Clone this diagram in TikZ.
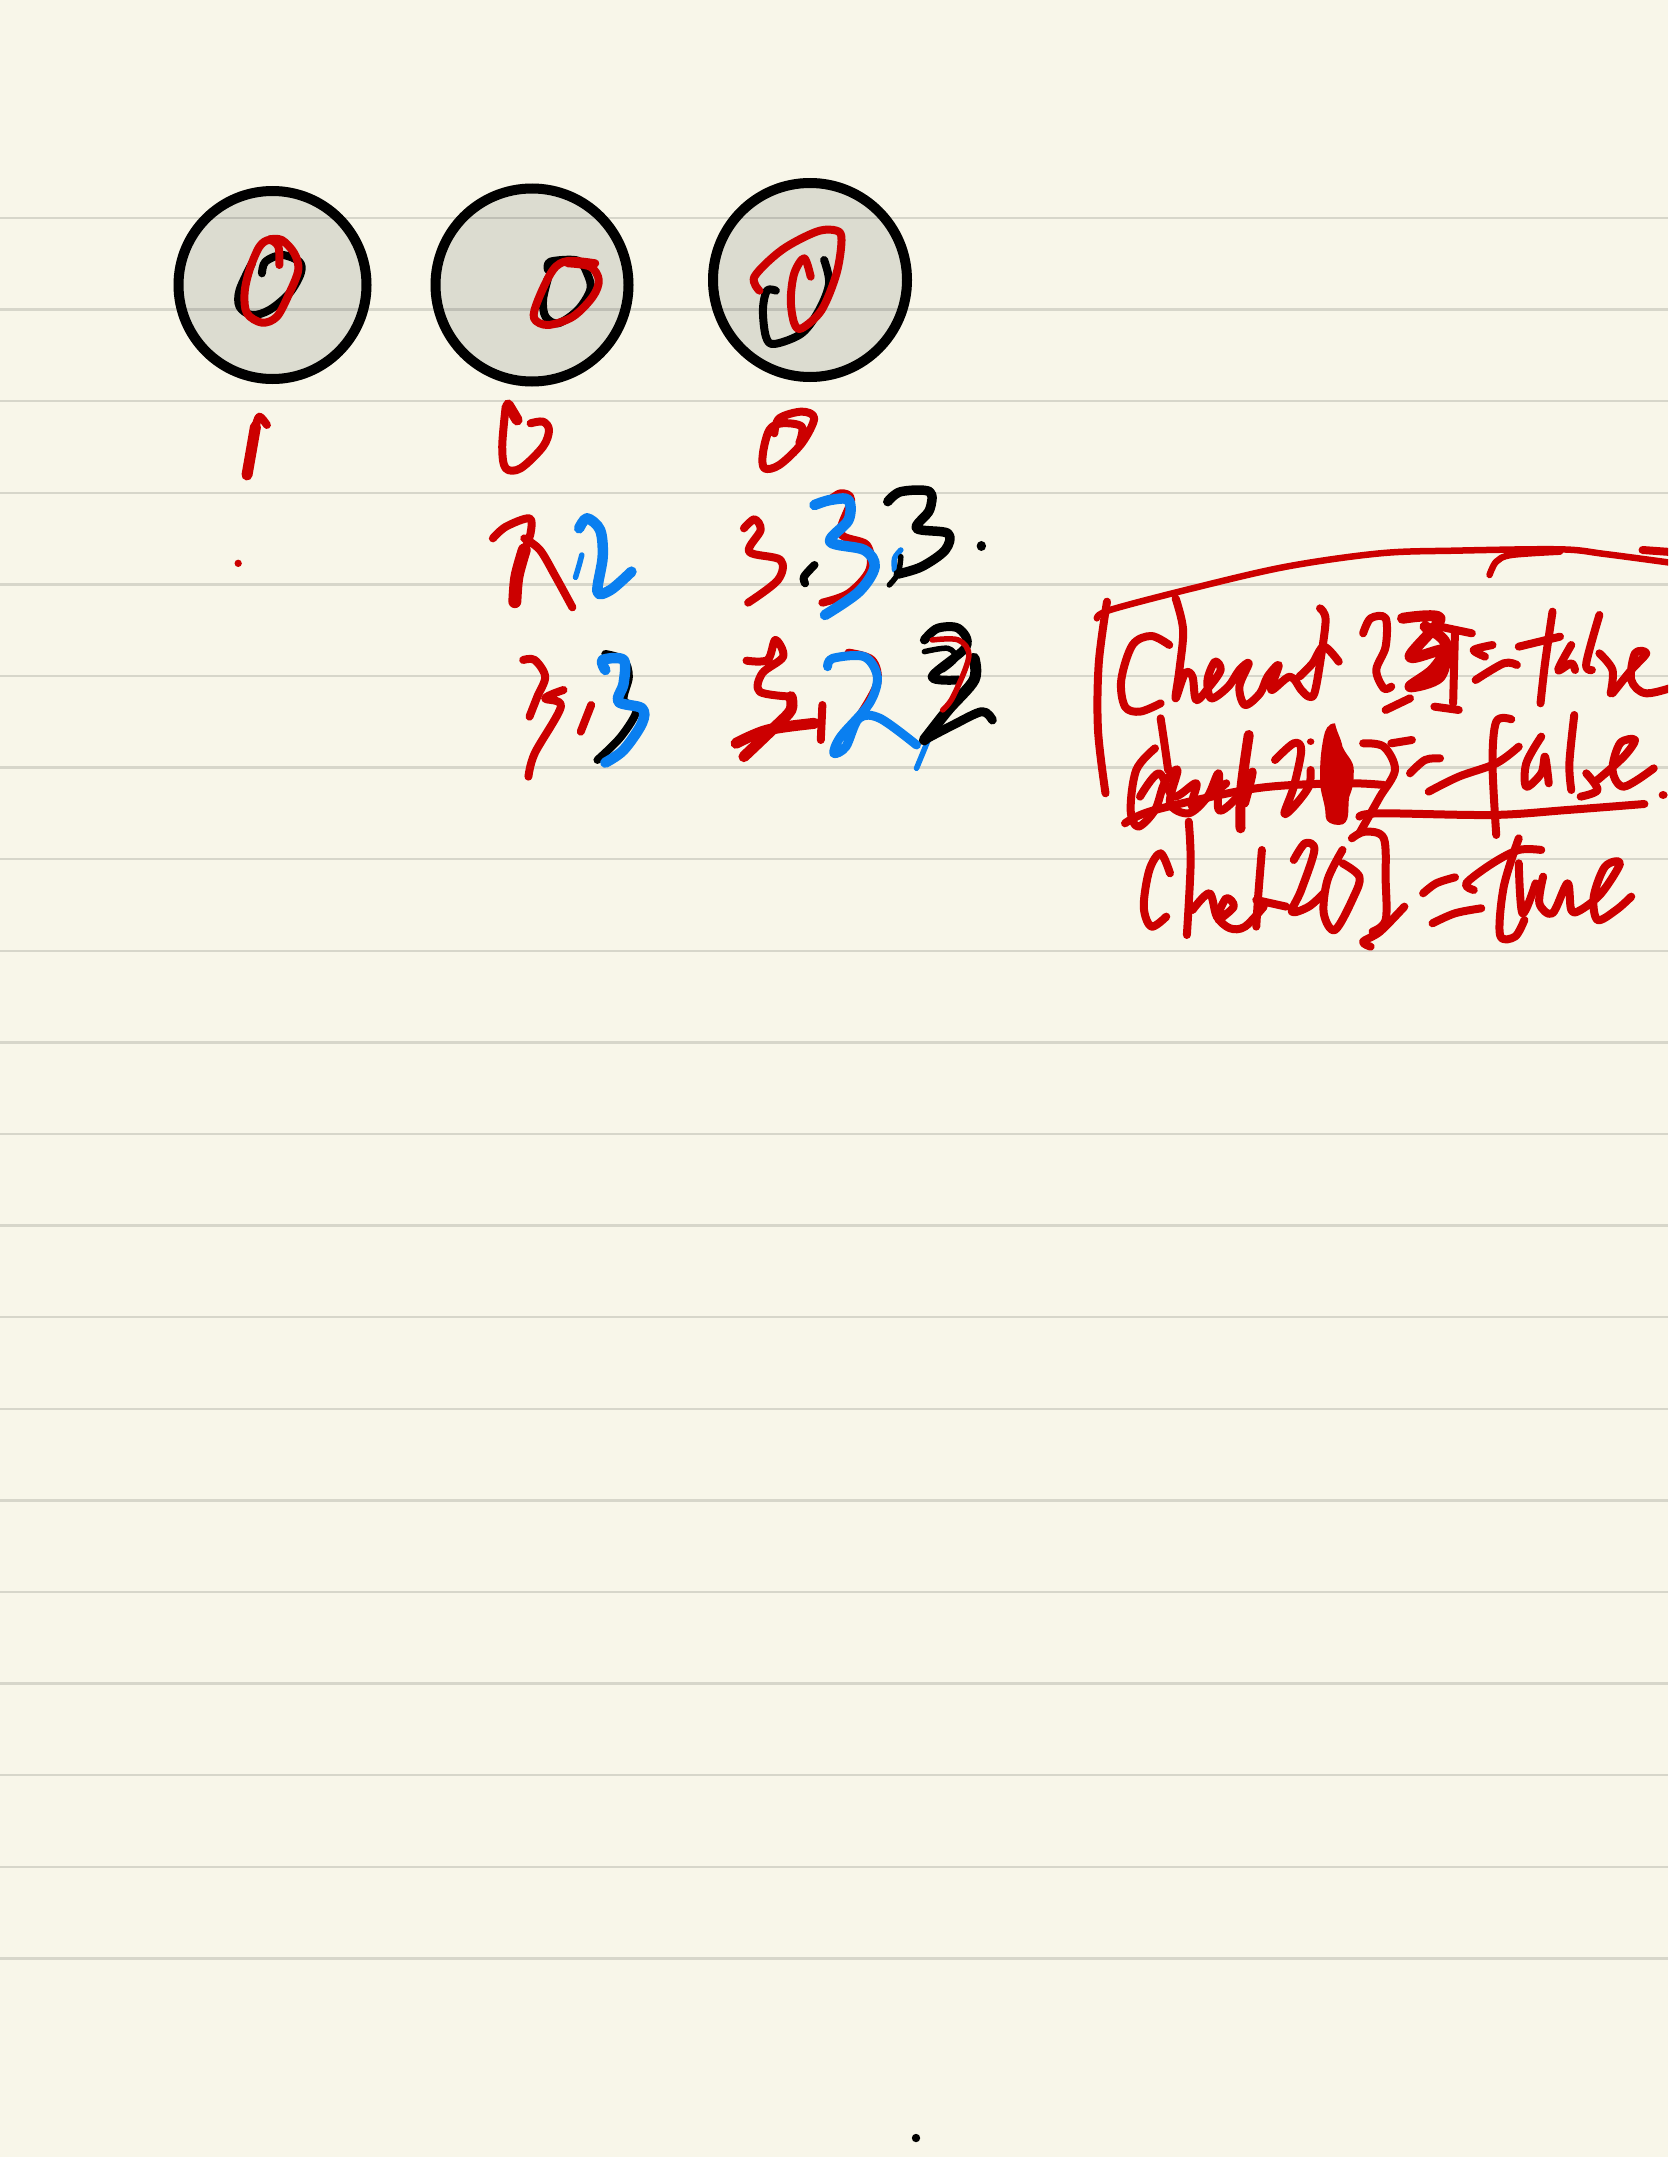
\documentclass[tikz,border=0pt]{standalone}
\definecolor{paper}{HTML}{F8F6E9}
\definecolor{disc}{HTML}{DCDCD0}
\definecolor{inkred}{HTML}{CC0000}
\definecolor{inkblue}{HTML}{0A7FF0}
\newcommand{\stk}[2][]{\draw[ink,#1] plot[smooth,tension=.55] coordinates {#2};}
\tikzset{
  ink/.style={line cap=round,line join=round,line width=8pt,inkred},
  blk/.style={black},
  blu/.style={inkblue,line width=10.5pt},
  thin/.style={line width=5.5pt},
  fat/.style={line width=11pt},
  ruleline/.style={black,opacity=.13,line width=2.4pt},
  ring/.style={draw=black,line width=10pt},
  zoomA/.style={shift={(150,160)},xscale=.4975,yscale=.3333},
  zoomB/.style={shift={(200,470)},xscale=.523,yscale=.3333},
  zoomC/.style={shift={(1080,530)},xscale=.375,yscale=.3333}
}
\begin{document}
\begin{tikzpicture}[x=1pt,y=-1pt]
\useasboundingbox (0,0) rectangle (1668,2157);
\clip (0,0) rectangle (1668,2157);
\fill[paper] (0,0) rectangle (1668,2157);
% discs
\fill[disc] (272.5,285) circle (99);
\fill[disc] (532,285) circle (101.5);
\fill[disc] (810,280) circle (102);
% ruled lines
\foreach \k in {0,...,19} {\draw[ruleline] (0,{217.9+91.6*\k}) -- (1668,{217.9+91.6*\k});}
% rings
\draw[ring] (272.5,285) circle (94);
\draw[ring] (532,285) circle (96.5);
\draw[ring] (810,280) circle (97);

\begin{scope}[zoomA]
% disc 1
\stk[blk]{(225,340) (232,305) (265,285) (300,305) (303,340) (280,400) (240,450) (205,465) (180,440) (180,390) (205,310)}
\stk{(260,315) (258,260) (240,240) (220,260) (200,330) (190,400) (195,460) (225,488) (255,470) (280,400) (298,330) (290,280) (265,240) (240,238)}
% disc 2
\stk[blk]{(800,330) (805,305) (860,302) (880,345) (885,390) (860,450) (820,490) (795,470) (790,420) (800,355)}
\stk{(895,310) (840,303) (810,330) (780,420) (772,475) (800,495) (850,470) (890,410) (902,360) (885,320) (840,310)}
% disc 3
\stk[blk]{(1258,392) (1240,392) (1232,450) (1238,530) (1255,552) (1310,520) (1345,450) (1365,370) (1355,300)}
\stk{(1225,392) (1215,350) (1270,270) (1340,215) (1380,212) (1390,240) (1380,340) (1350,450) (1310,505) (1295,490) (1288,420) (1295,340) (1315,295) (1328,350)}
% labels under the discs
\stk{(235,795) (220,770) (212,800)}
\stk[fat]{(212,800) (205,860) (195,945)}
\stk[fat]{(720,735) (738,780)}
\stk{(715,740) (708,860) (715,925) (745,925) (790,860) (802,810) (790,785) (765,790)}
\stk{(1255,820) (1265,775) (1310,755) (1335,775) (1310,850) (1265,915) (1235,925) (1232,880) (1245,810) (1270,790) (1310,800) (1305,850)}
\end{scope}

\begin{scope}[zoomB]
\fill[inkred] (73,280) ellipse (7 and 11);
% row 1, column 2
\stk{(560,205) (585,170) (630,145) (632,190) (620,240)}
\stk[line width=13pt]{(620,240) (606,320) (602,395)}
\stk{(620,205) (650,240) (680,320) (712,412)}
\stk[blu]{(725,175) (740,145) (765,180) (770,260) (760,365) (785,360) (825,305)}
\stk[blu,thin]{(730,255) (725,285) (718,322)}
% row 1, column 3
\stk{(1040,175) (1060,148) (1072,180) (1050,245) (1110,270) (1105,330) (1048,398)}
\stk{(1200,95) (1225,70) (1245,90) (1225,190) (1275,225) (1280,300) (1240,370) (1190,398)}
\stk[blk]{(1175,285) (1155,320) (1157,340)}
\stk[blu]{(1175,105) (1205,90) (1240,90) (1240,150) (1205,215) (1270,240) (1290,290) (1260,365) (1195,435)}
\stk[blu,thin]{(1340,240) (1328,265) (1328,300)}
\stk[blk,line width=9.5pt]{(1315,95) (1340,65) (1395,65) (1395,120) (1370,175) (1430,190) (1425,240) (1380,290) (1335,312)}
\stk[blk,thin]{(1340,260) (1335,310) (1318,345)}
\fill[black] (1494,228) ellipse (9 and 15);
% row 2, column 2
\stk{(618,570) (640,570) (660,620) (645,680) (630,740)}
\stk{(695,660) (660,685) (690,710) (640,850) (628,920)}
\stk{(748,705) (728,785)}
\stk[blk]{(775,552) (810,570) (820,620) (810,690) (835,720) (805,800) (760,870)}
\stk[blu]{(775,600) (770,570) (810,570) (810,640) (800,695) (845,715) (845,760) (810,840) (775,878)}
% row 2, column 3
\stk{(1045,572) (1085,570) (1100,510) (1115,560) (1075,610) (1070,665) (1130,680)}
\stk[fat]{(1130,680) (1130,720) (1100,770) (1040,860)}
\stk[fat]{(1025,820) (1085,780) (1175,760)}
\stk{(1190,705) (1187,810)}
\stk{(1240,548) (1285,570) (1295,640) (1260,740)}
\stk[blu,line width=9pt]{(1200,590) (1210,565) (1270,560) (1295,620) (1280,700) (1225,800) (1212,850) (1235,830) (1260,745) (1300,745) (1370,825)}
\stk[blu,thin]{(1395,800) (1370,895)}
\stk[blk,line width=9pt]{(1385,510) (1410,475) (1450,475) (1465,530) (1400,620) (1450,630)}
\stk[blk,thin]{(1385,545) (1430,535) (1445,565) (1420,600)}
\stk[blk,fat]{(1480,565) (1480,630) (1430,720) (1385,810)}
\stk[blk,line width=9pt]{(1385,810) (1440,765) (1495,725) (1515,750)}
\stk[thin]{(1400,510) (1450,510) (1470,560) (1440,680) (1420,720)}
\end{scope}

\begin{scope}[zoomC]
% frame
\stk{(72,215) (50,400) (48,600) (68,790)}
\stk[line width=6.5pt]{(45,265) (80,240) (300,175) (550,110) (800,70) (1000,62) (1280,58) (1400,72) (1600,102)}
\stk[line width=6.5pt]{(1092,135) (1110,95) (1150,75) (1280,65)}
\stk{(1500,60) (1600,68)}
% line 1
\stk{(238,345) (190,318) (140,345) (110,450) (120,530) (160,545) (215,520)}
\stk{(255,205) (275,300) (265,420) (255,505) (280,430) (300,440) (310,510) (345,470) (375,420) (360,395) (340,450) (350,505) (395,470) (425,420) (450,400) (425,470) (440,525) (480,490) (500,440) (530,405) (510,480) (560,440) (590,480) (610,500) (625,490) (640,400) (655,270) (640,235)}
\stk{(585,440) (620,400) (650,350) (690,395)}
\stk{(755,310) (775,265) (815,265) (815,350) (790,420) (810,475) (830,470)}
\stk[line width=11pt]{(860,265) (960,265) (880,380) (970,360) (940,420) (880,470) (960,440) (975,340) (920,290)}
\stk{(960,290) (1045,310)}
\stk{(1000,300) (995,520)}
\stk{(945,530) (1010,540)}
\stk{(815,540) (880,505)}
\stk{(1100,345) (1050,360) (1080,380)}
\stk{(1055,450) (1130,400) (1165,405)}
\stk{(1260,245) (1240,400) (1228,520)}
\stk{(1170,350) (1280,320)}
\stk{(1310,345) (1275,420) (1310,400) (1320,420)}
\stk{(1385,255) (1350,400) (1365,420)}
\stk{(1385,370) (1420,420) (1415,490)}
\stk{(1420,490) (1470,420) (1510,370) (1480,370) (1470,450) (1510,490) (1600,465)}
% line 2
\stk{(215,565) (225,640) (235,720)}
\stk{(200,655) (150,720) (135,840) (155,890) (200,840) (225,760) (260,720) (240,820) (290,850) (340,800) (370,730) (370,840) (420,800) (460,725) (440,820)}
\stk{(160,800) (210,730) (250,800) (310,760) (300,830) (390,760)}
\stk[line width=10pt]{(450,615) (430,780) (428,895)}
\stk{(120,880) (200,840) (470,775) (700,760) (810,765)}
\stk{(520,690) (570,640) (590,660) (570,770) (545,850) (570,830) (610,770) (615,720)}
\fill[inkred] (680,580) to[out=-80,in=100] (700,650) to[out=-70,in=90] (730,720) to[out=-90,in=70] (718,800) to[out=-100,in=0] (690,885) to[out=180,in=-90] (655,860) to[out=90,in=-90] (640,750) to[out=90,in=-100] (650,620) to[out=80,in=180] (680,580) -- cycle;
\fill[inkred] (615,635) ellipse (10 and 10);
\stk{(755,640) (810,650) (840,720) (800,800) (770,860) (745,910)}
\stk{(830,640) (885,630)}
\stk{(745,860) (800,850) (1100,855) (1300,840) (1505,822)}
\stk{(880,730) (920,690) (960,685)}
\stk{(930,785) (1010,740) (1110,700) (1170,650)}
\stk{(1150,568) (1110,575) (1100,700) (1110,915)}
\stk{(1230,620) (1190,700) (1190,770) (1230,730) (1240,680) (1250,760)}
\stk{(1318,555) (1305,700) (1310,780)}
\stk{(1350,730) (1380,780) (1335,800)}
\stk{(1380,750) (1450,680) (1480,630) (1440,640) (1420,720) (1450,770) (1530,715)}
\fill[inkred] (1555,795) ellipse (12 and 12);
% line 3
\stk{(240,1030) (215,970) (185,1020) (170,1130) (190,1190) (230,1160)}
\stk{(290,875) (295,1000) (285,1215)}
\stk{(300,1140) (345,1090) (365,1160) (400,1195) (440,1190) (490,1130)}
\stk{(370,1170) (410,1130) (390,1105) (365,1160)}
\stk{(485,960) (475,1100) (470,1190)}
\stk{(470,1110) (550,1130)}
\stk{(570,990) (600,940) (625,960) (590,1080) (565,1145) (610,1130) (650,1090)}
\stk{(700,960) (660,1050) (650,1150) (680,1200) (730,1100) (745,1040) (700,1000)}
\stk{(725,925) (760,905) (810,925) (815,1050) (815,1170) (780,1205)}
\stk{(865,1130) (800,1205) (755,1235) (775,1250)}
\stk{(915,1090) (950,1060) (1000,1042)}
\stk{(940,1180) (1000,1150) (1070,1135)}
\stk{(1170,925) (1130,1070) (1120,1215) (1160,1220) (1185,1170)}
\stk{(1050,1080) (1030,1060) (1100,1000) (1170,960) (1230,960)}
\stk{(1170,1000) (1180,1150) (1215,1060)}
\stk{(1235,1040) (1225,1120) (1260,1150) (1300,1060) (1310,1140) (1335,1140) (1390,1090) (1440,1000) (1400,1010) (1370,1100) (1380,1170) (1430,1140) (1470,1100)}
\end{scope}

% stray dot at the foot of the page
\fill[black] (916,2138) circle (4.2);
\end{tikzpicture}
\end{document}
